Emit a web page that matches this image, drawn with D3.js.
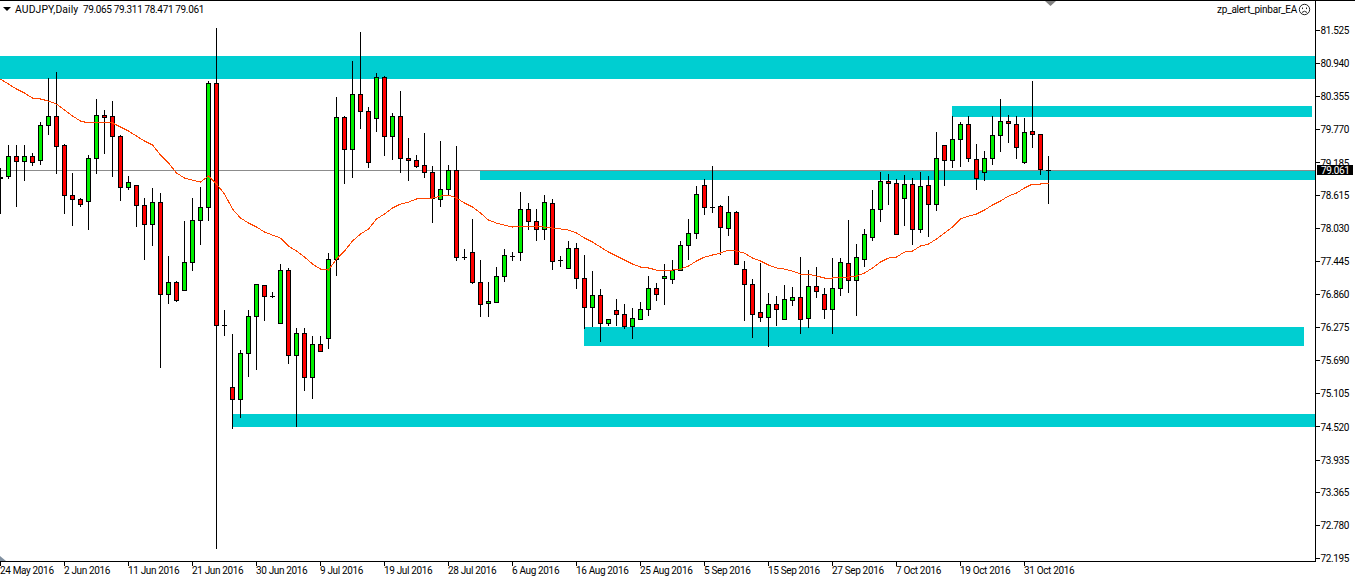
<!DOCTYPE html>
<html><head><meta charset="utf-8">
<script src="https://cdnjs.cloudflare.com/ajax/libs/d3/7.8.5/d3.min.js"></script>
<style>
html,body{margin:0;padding:0;background:#fff;overflow:hidden}
svg{display:block}
text{font-family:Roboto,sans-serif;font-size:10px;letter-spacing:-0.35px;fill:#000}
</style></head><body>
<svg id="c" width="1355" height="581"></svg>
<script>
const symbolLabel="AUDJPY,Daily";
const quoteLabel="79.065 79.311 78.471 79.061";
const expertLabel="zp_alert_pinbar_EA";
const lastPrice=79.061;
const priceTicks=[81.525,80.940,80.355,79.770,79.185,78.615,78.030,77.445,76.860,76.275,75.690,75.105,74.520,73.935,73.365,72.780,72.195];
const dateLabels=["24 May 2016","2 Jun 2016","11 Jun 2016","21 Jun 2016","30 Jun 2016","9 Jul 2016","19 Jul 2016","28 Jul 2016","6 Aug 2016","16 Aug 2016","25 Aug 2016","5 Sep 2016","15 Sep 2016","27 Sep 2016","7 Oct 2016","19 Oct 2016","31 Oct 2016"];
const dateStep=8;
const opens=[78.914,78.950,79.303,79.215,79.303,79.233,79.851,80.010,79.498,78.614,78.544,78.508,79.268,80.028,80.010,79.656,78.756,78.791,78.437,78.102,78.490,76.865,77.077,76.935,77.430,78.172,78.402,80.594,76.317,75.221,75.010,75.822,76.476,77.024,76.830,76.352,77.289,75.787,76.176,75.398,75.981,76.087,77.483,79.992,79.427,80.399,80.098,79.975,80.700,79.656,80.010,79.268,79.233,79.144,79.021,78.544,78.721,79.056,77.518,77.607,77.077,76.706,76.723,77.183,77.536,77.607,78.367,78.154,78.014,78.473,77.466,77.325,77.678,77.148,76.635,76.847,76.352,76.582,76.511,76.299,76.423,76.600,76.971,77.148,77.130,77.289,77.730,77.943,78.791,78.402,78.420,78.031,78.314,77.306,77.041,76.547,76.458,76.688,76.423,76.759,76.812,76.441,77.006,76.865,76.600,76.971,77.413,77.112,77.483,77.872,78.367,78.861,78.826,78.561,78.809,78.014,78.791,78.455,79.498,79.233,79.604,79.869,79.250,79.021,79.268,79.674,79.922,79.869,79.197,79.745,79.692,79.065];
const highs=[79.091,79.498,79.498,79.498,79.356,79.904,80.682,80.788,79.515,79.003,78.561,79.321,80.311,80.116,80.275,79.674,78.950,78.791,78.561,78.738,78.650,77.536,77.094,78.154,78.561,78.756,80.629,81.565,76.582,76.158,75.875,76.582,77.041,77.024,76.900,77.395,77.325,76.264,76.264,76.123,76.123,77.589,80.346,80.010,80.982,81.495,80.169,80.771,80.717,80.063,80.452,79.621,79.321,79.710,79.127,79.568,79.144,79.480,77.660,78.190,77.466,77.077,77.342,77.660,77.607,78.667,78.473,78.367,78.614,78.544,77.536,77.801,77.766,77.554,77.271,76.953,76.423,76.776,76.688,76.617,76.723,77.183,77.059,77.395,77.466,77.801,78.190,78.773,78.897,79.127,78.437,78.596,78.331,77.448,77.130,77.413,76.882,76.830,77.024,76.988,77.518,77.289,77.342,76.971,77.501,77.501,78.172,77.748,78.014,78.703,79.021,78.985,78.897,78.967,78.914,79.021,78.950,79.728,79.498,80.010,79.904,80.010,79.515,79.391,80.010,80.311,80.028,80.010,79.975,80.629,79.692,79.311];
const lows=[78.296,78.914,78.420,78.879,79.144,79.162,79.692,79.003,78.296,78.084,78.420,78.014,79.003,79.356,78.950,78.526,78.721,78.066,77.483,77.730,75.575,76.706,76.741,76.935,77.289,77.748,78.172,72.376,76.140,74.497,74.691,75.416,75.539,76.405,76.812,76.352,75.645,74.532,75.168,75.027,75.857,75.911,77.201,78.826,78.932,79.798,79.109,79.745,79.321,79.250,79.021,78.879,79.109,78.932,78.137,78.420,78.614,77.466,77.483,77.059,76.476,76.476,76.723,77.094,77.466,77.466,78.014,77.819,77.837,77.306,77.360,77.325,76.971,76.264,76.299,76.034,76.317,76.317,76.264,76.087,76.423,76.494,76.759,76.688,77.059,77.289,77.483,77.854,78.278,78.314,77.572,77.907,77.395,76.405,76.105,76.388,75.946,76.317,76.423,76.670,76.176,76.282,76.812,76.441,76.176,76.847,76.900,76.494,77.360,77.819,78.154,78.455,77.925,78.084,77.748,77.960,77.890,78.349,78.791,79.109,79.127,79.215,78.721,78.879,79.162,79.391,79.551,79.268,79.180,79.462,78.985,78.471];
const closes=[78.932,79.303,79.215,79.303,79.197,79.851,80.010,79.480,78.614,78.544,78.455,79.268,80.028,79.992,79.656,78.756,78.844,78.437,78.102,78.490,76.865,77.077,76.759,77.430,78.172,78.402,80.594,76.317,76.317,75.010,75.822,76.476,77.041,76.830,76.830,77.289,75.787,76.176,75.398,75.981,75.857,77.483,79.992,79.427,80.399,80.098,79.197,80.700,79.656,80.010,79.268,79.233,79.127,79.021,78.561,78.721,79.056,77.518,77.518,77.077,76.688,76.741,77.183,77.554,77.536,78.367,78.154,78.014,78.490,77.448,77.466,77.678,77.148,76.635,76.847,76.352,76.423,76.511,76.299,76.441,76.600,76.971,76.865,77.183,77.289,77.730,77.943,78.632,78.402,78.402,78.049,78.314,77.395,77.041,76.511,76.458,76.688,76.600,76.776,76.812,76.423,77.006,76.918,76.600,76.971,77.430,77.112,77.518,77.925,78.367,78.861,78.826,77.925,78.809,78.014,78.773,78.455,79.268,79.233,79.604,79.869,79.268,78.914,79.268,79.674,79.922,79.887,79.462,79.728,79.692,79.074,79.061];
const movingAverage=[80.664,80.575,80.487,80.416,80.328,80.311,80.275,80.222,80.116,80.010,79.922,79.887,79.887,79.904,79.887,79.816,79.745,79.656,79.568,79.498,79.321,79.180,79.003,78.914,78.879,78.844,78.950,78.809,78.632,78.367,78.208,78.119,78.049,77.960,77.907,77.854,77.713,77.624,77.518,77.395,77.306,77.289,77.483,77.624,77.801,77.925,78.014,78.190,78.278,78.384,78.455,78.490,78.544,78.561,78.561,78.596,78.614,78.561,78.473,78.402,78.296,78.172,78.119,78.084,78.049,78.066,78.066,78.066,78.049,78.031,78.014,77.996,77.943,77.854,77.784,77.695,77.607,77.536,77.466,77.395,77.342,77.325,77.289,77.289,77.289,77.306,77.360,77.448,77.518,77.554,77.589,77.642,77.624,77.589,77.501,77.448,77.377,77.325,77.306,77.271,77.218,77.218,77.183,77.148,77.148,77.165,77.165,77.183,77.236,77.325,77.430,77.501,77.518,77.607,77.624,77.713,77.748,77.837,77.943,78.049,78.190,78.243,78.278,78.349,78.437,78.508,78.596,78.650,78.738,78.809,78.809,78.826];
const zoneTop=[81.070,80.185,79.040,76.285,74.750];
const zoneBottom=[80.665,79.990,78.880,75.945,74.515];

const W=1355,H=581,axisX=1315,axisY=561;
const bull="#00f000",bear="#ff0000",zoneCol="#00ced1",maCol="#ff4500";
const svg=d3.select("#c");
const x=d3.scaleLinear().domain([0,opens.length-1]).range([0.5,1048.5]);
const y=d3.scaleLinear().domain([72.195,81.525]).range([558.3,30.3]);
const row=v=>Math.round(y(v))+0.5;

// zones
const zoneRight=[axisX,1312,axisX,1304,axisX];
const zoneLeft=[0,952,480,584,232];
svg.append("g").selectAll("rect").data(zoneTop).join("rect")
  .attr("x",(d,i)=>zoneLeft[i]).attr("width",(d,i)=>zoneRight[i]-zoneLeft[i])
  .attr("y",d=>Math.round(y(d))).attr("height",(d,i)=>Math.round(y(zoneBottom[i]))-Math.round(y(d)))
  .attr("fill",zoneCol);

// last price line
svg.append("line").attr("x1",0).attr("x2",axisX).attr("y1",row(lastPrice)).attr("y2",row(lastPrice))
  .attr("stroke","#8c8c8c").attr("shape-rendering","crispEdges");

// candles
const idx=d3.range(opens.length);
const g=svg.append("g").attr("shape-rendering","crispEdges");
g.selectAll("line.w").data(idx).join("line").attr("class","w")
  .attr("x1",x).attr("x2",x).attr("y1",i=>Math.round(y(highs[i]))).attr("y2",i=>Math.round(y(lows[i]))+1)
  .attr("stroke","#000");
const bodyIdx=idx.filter(i=>Math.abs(opens[i]-closes[i])>0.006);
const dojiIdx=idx.filter(i=>Math.abs(opens[i]-closes[i])<=0.006);
g.selectAll("line.d").data(dojiIdx).join("line").attr("class","d")
  .attr("x1",i=>x(i)-2.5).attr("x2",i=>x(i)+2.5).attr("y1",i=>row(closes[i])).attr("y2",i=>row(closes[i]))
  .attr("stroke","#000");
g.selectAll("rect").data(bodyIdx).join("rect")
  .attr("x",i=>x(i)-2).attr("width",4)
  .attr("y",i=>row(Math.max(opens[i],closes[i])))
  .attr("height",i=>row(Math.min(opens[i],closes[i]))-row(Math.max(opens[i],closes[i])))
  .attr("fill",i=>closes[i]>opens[i]?bull:bear).attr("stroke","#000");

// moving average
svg.append("path").datum(movingAverage)
  .attr("d",d3.line().x((d,i)=>x(i)).y(d=>y(d)))
  .attr("fill","none").attr("stroke",maCol).attr("stroke-width",1).attr("shape-rendering","crispEdges");

// frame and axes
svg.append("rect").attr("x",axisX+1).attr("y",0).attr("width",W-axisX-1).attr("height",H).attr("fill","#fff");
svg.append("rect").attr("x",0).attr("y",axisY+1).attr("width",W).attr("height",H-axisY-1).attr("fill","#fff");
const frame=svg.append("g").attr("shape-rendering","crispEdges").attr("stroke","#000");
frame.append("line").attr("x1",0).attr("x2",W).attr("y1",0.5).attr("y2",0.5);
frame.append("line").attr("x1",axisX+.5).attr("x2",axisX+.5).attr("y1",0).attr("y2",axisY+1);
frame.append("line").attr("x1",0).attr("x2",axisX+1).attr("y1",axisY+.5).attr("y2",axisY+.5);

const yAxis=d3.axisRight(y).tickValues(priceTicks).tickSize(4).tickPadding(1).tickFormat(d3.format(".3f")).offset(0.2);
const ya=svg.append("g").attr("transform",`translate(${axisX+.5},0)`).call(yAxis);
ya.select(".domain").remove();
ya.selectAll("line").attr("stroke","#000").attr("shape-rendering","crispEdges");
ya.selectAll("text").attr("dy","0.36em");
ya.attr("font-family",null).attr("font-size",null);

const dateIdx=dateLabels.map((d,i)=>i*dateStep);
const xAxis=d3.axisBottom(x).tickValues(dateIdx).tickSize(4).tickFormat((d,i)=>dateLabels[i]).offset(0);
const xa=svg.append("g").attr("transform",`translate(0,${axisY+.5})`).call(xAxis);
xa.select(".domain").remove();
xa.selectAll("line").attr("stroke","#000").attr("shape-rendering","crispEdges");
xa.selectAll("text").attr("text-anchor","start").attr("x",-0.5).attr("y",4.5).attr("dy","0.8em");
xa.attr("font-family",null).attr("font-size",null);

// last price tag
svg.append("rect").attr("x",1317).attr("y",165).attr("width",36).attr("height",10).attr("fill","#000");
svg.append("text").attr("x",1321).attr("y",174).style("fill","#fff").text(d3.format(".3f")(lastPrice));

// header
svg.append("path").attr("d","M3,7 L11,7 L7,11 Z").attr("fill","#000");
svg.append("text").attr("x",15).attr("y",13).style("letter-spacing","0.1px").style("font-size","10.4px").text(symbolLabel);
svg.append("text").attr("x",83).attr("y",13).text(quoteLabel);
svg.append("text").attr("x",1297).attr("y",13).attr("text-anchor","end").style("letter-spacing","-0.25px").text(expertLabel);
const face=svg.append("g").attr("transform","translate(1304.5,9.5)").attr("fill","none").attr("stroke","#222");
face.append("circle").attr("r",5.2);
face.append("path").attr("d","M-2.6,3 Q0,0.4 2.6,3");
face.append("path").attr("d","M-2,-2 v1.6 M2,-2 v1.6");

// chart markers
svg.append("path").attr("d","M0,556 L6,561 L0,561 Z").attr("fill","#8090a0");
svg.append("path").attr("d","M1045,1 L1056,1 L1050.5,6 Z").attr("fill","#808080");
</script></body></html>
